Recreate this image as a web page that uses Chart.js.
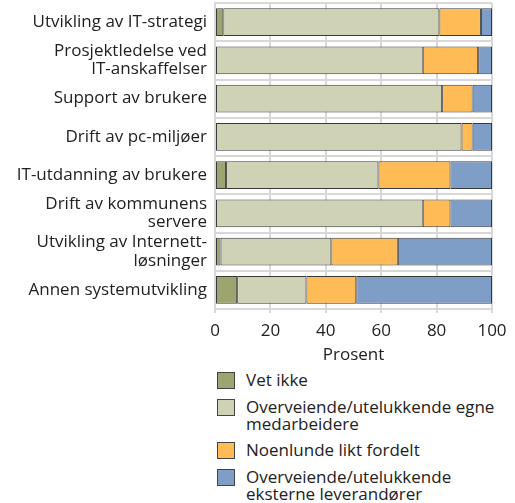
<!DOCTYPE html>
<html>
<head>
<meta charset="utf-8">
<script src="https://cdn.jsdelivr.net/npm/chart.js@4/dist/chart.umd.min.js"></script>
<style>
  html, body { margin: 0; padding: 0; background: #fff; }
  #wrap { position: relative; width: 515px; height: 503px; font-family: "Open Sans", sans-serif; color: #222; }
  #chartBox { position: absolute; left: 0; top: 0; width: 515px; height: 367px; }
  #legend { position: absolute; left: 217px; top: 371px; }
  .item { display: flex; align-items: flex-start; margin-bottom: 9px; }
  .box { width: 18px; height: 17px; box-sizing: border-box; border: 1px solid #444; margin-top: 1px; margin-right: 11px; flex: none; }
  .txt { font-size: 17px; line-height: 17px; }
</style>
</head>
<body>
<div id="wrap">
  <div id="chartBox"><canvas id="c"></canvas></div>
  <div id="legend"></div>
</div>
<script>
const categories = [
  "Utvikling av IT-strategi",
  ["Prosjektledelse ved", "IT-anskaffelser"],
  "Support av brukere",
  "Drift av pc-miljøer",
  "IT-utdanning av brukere",
  ["Drift av kommunens", "servere"],
  ["Utvikling av Internett-", "løsninger"],
  "Annen systemutvikling"
];
const seriesNames = [
  "Vet ikke",
  ["Overveiende/utelukkende egne", "medarbeidere"],
  "Noenlunde likt fordelt",
  ["Overveiende/utelukkende", "eksterne leverandører"]
];
const vetIkke   = [3, 0, 0, 0, 4, 0, 2, 8];
const egne      = [78, 75, 82, 89, 55, 75, 40, 25];
const likt      = [15, 20, 11, 4, 26, 10, 24, 18];
const eksterne  = [4, 5, 7, 7, 15, 15, 34, 49];
const xTicks    = [0, 20, 40, 60, 80, 100];
const axisTitle = "Prosent";
const colors = ["#9da46f", "#cfd2b5", "#ffbb55", "#7f9ec7"];

const FONT = '"Open Sans", sans-serif';
const seriesData = [vetIkke, egne, likt, eksterne];

const chart = new Chart(document.getElementById('c'), {
  type: 'bar',
  data: {
    labels: categories,
    datasets: seriesData.map((d, i) => ({
      label: Array.isArray(seriesNames[i]) ? seriesNames[i].join(' ') : seriesNames[i],
      data: d,
      backgroundColor: colors[i],
      borderColor: '#3a3a3a',
      borderWidth: 1,
      borderSkipped: false,
      barPercentage: 0.73,
      categoryPercentage: 1
    }))
  },
  options: {
    indexAxis: 'y',
    responsive: true,
    maintainAspectRatio: false,
    animation: false,
    layout: { padding: { top: 3, right: 23, bottom: 0, left: 0 } },
    plugins: { legend: { display: false }, tooltip: { enabled: false } },
    scales: {
      x: {
        stacked: true,
        min: 0, max: 100,
        afterBuildTicks: (s) => { s.ticks = xTicks.map(v => ({ value: v })); },
        afterFit: (s) => { s.height = 58; s.paddingLeft = 0; s.paddingRight = 0; },
        grid: { color: '#d8d8d8', lineWidth: 2, tickLength: 4, drawOnChartArea: true },
        border: { color: '#d8d8d8', width: 2 },
        ticks: { color: '#222', font: { family: FONT, size: 17 }, padding: 8, maxRotation: 0 },
        title: { display: true, text: axisTitle, color: '#222', font: { family: FONT, size: 17 }, padding: { top: 0, bottom: 2 } }
      },
      y: {
        stacked: true,
        afterFit: (s) => { s.width = 215; s.paddingTop = 0; s.paddingBottom = 0; },
        grid: { color: '#d8d8d8', lineWidth: 2, drawTicks: false, offset: true },
        border: { color: '#d8d8d8', width: 2 },
        ticks: { color: '#222', font: { family: FONT, size: 17, lineHeight: 1.08 }, padding: 8, autoSkip: false }
      }
    }
  }
});

// HTML legend built from the chart's datasets
const leg = document.getElementById('legend');
chart.data.datasets.forEach((ds, i) => {
  const item = document.createElement('div');
  item.className = 'item';
  const box = document.createElement('div');
  box.className = 'box';
  box.style.background = ds.backgroundColor;
  const txt = document.createElement('div');
  txt.className = 'txt';
  const name = seriesNames[i];
  txt.innerHTML = (Array.isArray(name) ? name : [name]).join('<br>');
  item.appendChild(box); item.appendChild(txt);
  leg.appendChild(item);
});
</script>
</body>
</html>
